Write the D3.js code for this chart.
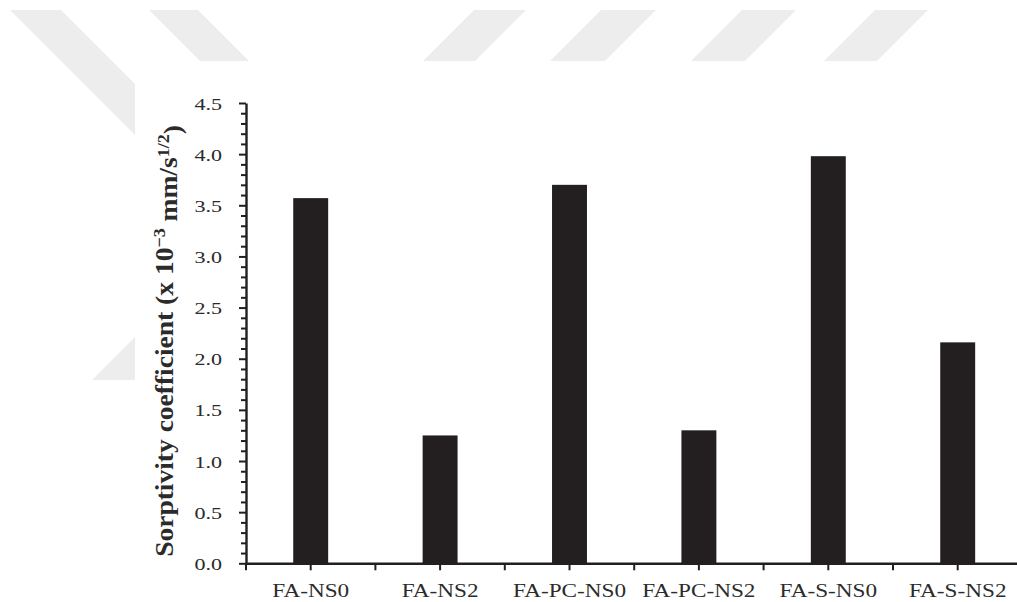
<!DOCTYPE html>
<html>
<head>
<meta charset="utf-8">
<script src="https://cdn.jsdelivr.net/npm/d3@7"></script>
<style>
  html, body { margin: 0; padding: 0; background: #fff; }
  svg { display: block; }
</style>
</head>
<body>
<svg id="chart" width="1017" height="602"></svg>
<script>
// ---- data ----
const categories = ["FA-NS0", "FA-NS2", "FA-PC-NS0", "FA-PC-NS2", "FA-S-NS0", "FA-S-NS2"];
const sorptivity = [3.57, 1.25, 3.70, 1.30, 3.98, 2.16];
const yMajorTicks = [0, 0.5, 1.0, 1.5, 2.0, 2.5, 3.0, 3.5, 4.0, 4.5];
const yMinorStep = 0.1;

// ---- page backdrop: pale diagonal bands behind the figure ----
const backdropBands = [
  [[10, 10], [61, 10], [261, 210], [210, 210]],
  [[149, 10], [198, 10], [260, 72], [211, 72]],
  [[474, 10], [526, 10], [464, 72], [412, 72]],
  [[601, 10], [656, 10], [594, 72], [539, 72]],
  [[742, 10], [796, 10], [734, 72], [680, 72]],
  [[875, 10], [928, 10], [866, 72], [813, 72]],
  [[135, 337], [135, 380], [92, 380]]
];

const INK = "#231f20";
const SHADE = "#ededed";
const SERIF = "'Liberation Serif', 'Times New Roman', serif";

const W = 1017, H = 602;
const plot = { left: 246, right: 1022.4, top: 103, bottom: 563.3 };

const svg = d3.select("#chart");

svg.append("g")
  .selectAll("polygon")
  .data(backdropBands)
  .join("polygon")
  .attr("points", d => d.map(p => p.join(",")).join(" "))
  .attr("fill", SHADE);

// figure panel
svg.append("rect")
  .attr("x", 135).attr("y", 61)
  .attr("width", W - 135).attr("height", H - 61)
  .attr("fill", "#fff");

// ---- scales ----
const x = d3.scaleBand()
  .domain(categories)
  .range([plot.left, plot.right])
  .paddingInner(0.73)
  .paddingOuter(0.365);

const y = d3.scaleLinear()
  .domain([0, 4.5])
  .range([plot.bottom, plot.top]);

// glyphs in this figure are drawn horizontally widened
const WIDEN_Y = 1.3, WIDEN_X = 1.29;

// ---- bars ----
svg.append("g")
  .selectAll("rect")
  .data(categories.map((c, i) => ({ c, v: sorptivity[i] })))
  .join("rect")
  .attr("x", d => x(d.c))
  .attr("width", x.bandwidth())
  .attr("y", d => y(d.v))
  .attr("height", d => y(0) - y(d.v))
  .attr("fill", INK);

// ---- y axis ----
const yAxisG = svg.append("g").attr("transform", `translate(${plot.left},0)`);

const minorTicks = d3.range(0, 4.5 + 1e-9, yMinorStep)
  .filter(v => !yMajorTicks.some(m => Math.abs(m - v) < 1e-6));

yAxisG.append("g")
  .call(d3.axisLeft(y).tickValues(minorTicks).tickSize(5).tickFormat(""))
  .call(g => g.select(".domain").remove())
  .call(g => g.selectAll("line").attr("stroke", INK).attr("stroke-width", 2));

yAxisG.append("g")
  .call(d3.axisLeft(y).tickValues(yMajorTicks).tickSize(7).tickSizeOuter(0).tickFormat(""))
  .call(g => g.select(".domain").attr("stroke", INK).attr("stroke-width", 2.4))
  .call(g => g.selectAll("line").attr("stroke", INK).attr("stroke-width", 2));

yAxisG.append("g")
  .selectAll("text")
  .data(yMajorTicks)
  .join("text")
  .attr("transform", d => `translate(-24,${y(d) + 6.5}) scale(${WIDEN_Y},1)`)
  .attr("text-anchor", "end")
  .attr("font-family", SERIF)
  .attr("font-size", 17)
  .attr("fill", "#2b2b2b")
  .text(d3.format(".1f"));

// ---- x axis ----
const xAxisG = svg.append("g").attr("transform", `translate(0,${plot.bottom})`);

xAxisG.append("g")
  .call(d3.axisBottom(x).tickSize(7).tickSizeOuter(0).tickFormat(""))
  .call(g => g.select(".domain").attr("stroke", INK).attr("stroke-width", 2.4))
  .call(g => g.selectAll("line").attr("stroke", INK).attr("stroke-width", 2));

// ticks on category boundaries
const boundaries = d3.range(categories.length + 1).map(i => plot.left + i * x.step());
xAxisG.append("g")
  .selectAll("line")
  .data(boundaries)
  .join("line")
  .attr("x1", d => d).attr("x2", d => d)
  .attr("y1", 0).attr("y2", 7)
  .attr("stroke", INK).attr("stroke-width", 2);

xAxisG.append("g")
  .selectAll("text")
  .data(categories)
  .join("text")
  .attr("transform", d => `translate(${x(d) + x.bandwidth() / 2},34) scale(${WIDEN_X},1)`)
  .attr("text-anchor", "middle")
  .attr("font-family", SERIF)
  .attr("font-size", 18)
  .attr("fill", "#2b2b2b")
  .text(d => d);

// ---- y axis title ----
const title = svg.append("text")
  .attr("text-anchor", "middle")
  .attr("font-family", SERIF)
  .attr("font-weight", "bold")
  .attr("font-size", 26)
  .attr("fill", "#2b2b2b");

title.append("tspan").text("Sorptivity coefficient (x 10");
title.append("tspan").attr("dy", "-0.45em").attr("font-size", 17).text("\u22123");
title.append("tspan").attr("dy", "0.45em").text(" mm/s");
title.append("tspan").attr("dy", "-0.45em").attr("font-size", 17).text("1/2");
title.append("tspan").attr("dy", "0.45em").text(")");

const targetLen = 432;
const natural = title.node().getComputedTextLength();
const k = targetLen / natural;
title.attr("transform", `translate(173,341) rotate(-90) scale(${k},1)`);
</script>
</body>
</html>
